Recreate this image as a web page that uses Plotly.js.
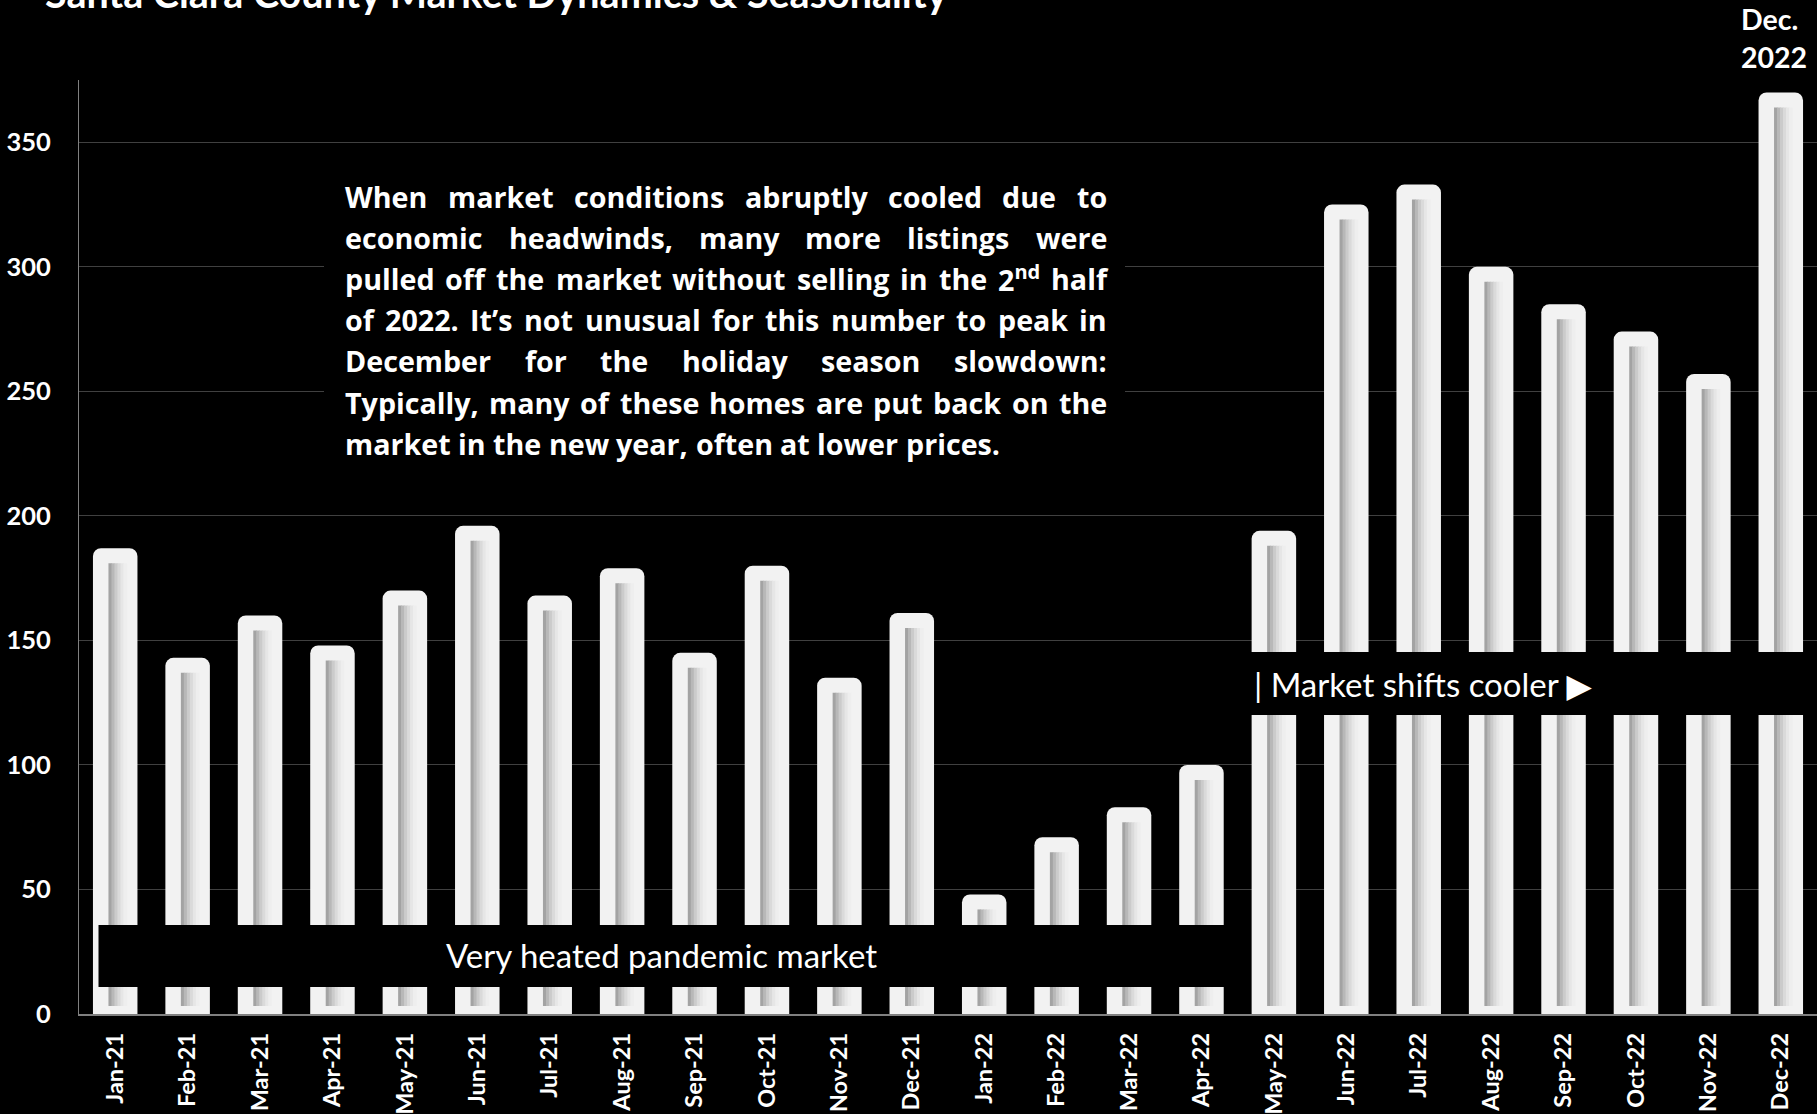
<!DOCTYPE html>
<html><head><meta charset="utf-8">
<script src="https://cdn.plot.ly/plotly-3.0.1.min.js"></script>
<style>html,body{margin:0;padding:0;background:#000;} #chart{width:1817px;height:1114px;}</style>
</head><body><div id="chart"></div>
<script>
// ---- data ----
const categories = ['Jan-21','Feb-21','Mar-21','Apr-21','May-21','Jun-21','Jul-21','Aug-21','Sep-21','Oct-21','Nov-21','Dec-21',
                    'Jan-22','Feb-22','Mar-22','Apr-22','May-22','Jun-22','Jul-22','Aug-22','Sep-22','Oct-22','Nov-22','Dec-22'];
const values = [187,143,160,148,170,196,168,179,145,180,135,161,
                48,71,83,100,194,325,333,300,285,274,257,370];
const yTickVals = [0,50,100,150,200,250,300,350];
const yTickText = ['0','50','100','150','200','250','300','350'];

// ---- texts ----
const titleText = 'Santa Clara County Market Dynamics & Seasonality';
const noteLines = [
  'When market conditions abruptly cooled due to',
  'economic headwinds, many more listings were',
  'pulled off the market without selling in the 2<sup>nd</sup> half',
  'of 2022. It\u2019s not unusual for this number to peak in',
  'December for the holiday season slowdown:',
  'Typically, many of these homes are put back on the',
  'market in the new year, often at lower prices.'
];
const heatedLabel = 'Very heated pandemic market';
const coolerLabel = '| Market shifts cooler \u25B6';
const peakLabel = ['Dec.', '2022'];

// ---- geometry ----
const W = 1817, H = 1114;
const M = {l: 79, r: 0, t: 80, b: 100};
const plotW = W - M.l - M.r, plotH = H - M.t - M.b;
const yMax = 375;
const pxPerCat = plotW / categories.length;
const pxPerUnit = plotH / yMax;
const px2u = p => p / pxPerCat;
const px2v = p => p / pxPerUnit;
const pX = p => (p - M.l) / plotW;
const pY = p => (H - M.b - p) / plotH;
const FONT = 'Lato, "Open Sans", "DejaVu Sans", sans-serif';
const PARA_FONT = '"Open Sans", Lato, "DejaVu Sans", sans-serif';

// ---- bars ----
const barPx = 44.5;
const traces = [{
  type: 'bar', x: categories, y: values,
  width: px2u(barPx), offset: -px2u(barPx) / 2,
  marker: {color: '#f2f2f2', cornerradius: 8, line: {width: 0}},
  hoverinfo: 'skip'
}];
const strips = [
  {dx: 15.5, c: '#a3a3a3'}, {dx: 18.5, c: '#b8b8b8'}, {dx: 21.5, c: '#cbcbcb'},
  {dx: 24.5, c: '#dadada'}, {dx: 27.5, c: '#e6e6e6'}, {dx: 30.5, c: '#eeeeee'}
];
const insetTop = px2v(15), insetBase = px2v(8);
strips.forEach(s => {
  traces.push({
    type: 'bar', x: categories,
    y: values.map(v => v - insetTop - insetBase), base: insetBase,
    width: px2u(3.6), offset: -px2u(barPx) / 2 + px2u(s.dx),
    marker: {color: s.c, line: {width: 0}}, hoverinfo: 'skip'
  });
});

// ---- justified paragraph ----
const ctx = document.createElement('canvas').getContext('2d');
function measureAt(word, size) {
  const m = word.match(/^(.*)<sup>(.*)<\/sup>(.*)$/);
  ctx.font = 'bold ' + size + 'px "Open Sans"';
  if (!m) return ctx.measureText(word).width;
  let w = ctx.measureText(m[1] + m[3]).width;
  ctx.font = 'bold ' + (size * 0.7) + 'px "Open Sans"';
  return w + ctx.measureText(m[2]).width;
}
// size the paragraph so its last (unjustified) line spans the same width as in the original
const lastLineTarget = 655;
let paraFont = 28 * lastLineTarget / measureAt(noteLines[noteLines.length - 1], 28);
paraFont = Math.min(Math.max(paraFont, 24), 32);
const paraLeft = 344, paraRight = 1106, paraTop = 196.5, lineStep = 41.1;
const annotations = [];
noteLines.forEach((line, i) => {
  const yPx = paraTop + i * lineStep;
  const words = line.split(' ');
  const last = i === noteLines.length - 1;
  const widths = words.map(w => measureAt(w, paraFont));
  const sum = widths.reduce((a, b) => a + b, 0);
  const gap = last ? measureAt(' ', paraFont) : (paraRight - paraLeft - sum) / (words.length - 1);
  let x = paraLeft;
  words.forEach((w, j) => {
    annotations.push({
      xref: 'paper', yref: 'paper', x: pX(x - 1), y: pY(yPx),
      xanchor: 'left', yanchor: 'middle', showarrow: false, text: w,
      font: {family: PARA_FONT, size: paraFont, color: '#ffffff', weight: 'bold'}
    });
    x += widths[j] + gap;
  });
});

// title (cut off at top as in the original)
annotations.push({
  xref: 'paper', yref: 'paper', x: pX(43), y: pY(-7), xanchor: 'left', yanchor: 'middle',
  showarrow: false, text: titleText,
  font: {family: FONT, size: 39.5, color: '#ffffff', weight: 'bold'}
});
// Dec. 2022 label
peakLabel.forEach((t, i) => {
  annotations.push({
    xref: 'x', yref: 'paper', x: categories[categories.length - 1], xshift: -42,
    y: pY(18.5 + i * 38.7), xanchor: 'left', yanchor: 'middle', showarrow: false, text: t,
    font: {family: FONT, size: 28.5, color: '#ffffff', weight: 'bold'}
  });
});
// band labels
annotations.push({
  xref: 'paper', yref: 'paper', x: pX(661), y: pY(955), xanchor: 'center', yanchor: 'middle',
  showarrow: false, text: heatedLabel,
  font: {family: FONT, size: 33, color: '#ffffff'}
});
annotations.push({
  xref: 'paper', yref: 'paper', x: pX(1252), y: pY(684), xanchor: 'left', yanchor: 'middle',
  showarrow: false, text: coolerLabel,
  font: {family: FONT, size: 33, color: '#ffffff'}
});

const shapes = [
  {type: 'rect', xref: 'paper', yref: 'paper', x0: pX(324), x1: pX(1125), y0: pY(463), y1: pY(172),
   fillcolor: '#000000', line: {width: 0}, layer: 'above'},
  {type: 'rect', xref: 'paper', yref: 'paper', x0: pX(98.5), x1: pX(1240), y0: pY(987), y1: pY(925),
   fillcolor: '#000000', line: {width: 0}, layer: 'above'},
  {type: 'rect', xref: 'paper', yref: 'paper', x0: pX(1244), x1: pX(1817), y0: pY(715), y1: pY(652),
   fillcolor: '#000000', line: {width: 0}, layer: 'above'}
];

const layout = {
  width: W, height: H, margin: M,
  paper_bgcolor: '#000000', plot_bgcolor: '#000000',
  barmode: 'overlay', showlegend: false, hovermode: false,
  xaxis: {
    type: 'category', range: [-0.5, categories.length - 0.5], fixedrange: true,
    showgrid: false, zeroline: false, showline: true, linecolor: '#808080', linewidth: 1.5,
    ticks: 'outside', ticklen: 8, tickcolor: 'rgba(0,0,0,0)', tickangle: -90,
    tickfont: {family: FONT, size: 23.5, color: '#ffffff', weight: 'bold'}
  },
  yaxis: {
    range: [0, yMax], fixedrange: true, tickvals: yTickVals, ticktext: yTickText,
    showgrid: true, gridcolor: '#404040', gridwidth: 1, zeroline: false,
    showline: true, linecolor: '#808080', linewidth: 1,
    ticks: 'outside', ticklen: 22, tickcolor: 'rgba(0,0,0,0)',
    tickfont: {family: FONT, size: 25.5, color: '#ffffff', weight: 'bold'}
  },
  shapes: shapes,
  annotations: annotations
};
Plotly.newPlot('chart', traces, layout, {staticPlot: true, displayModeBar: false});
</script></body></html>
